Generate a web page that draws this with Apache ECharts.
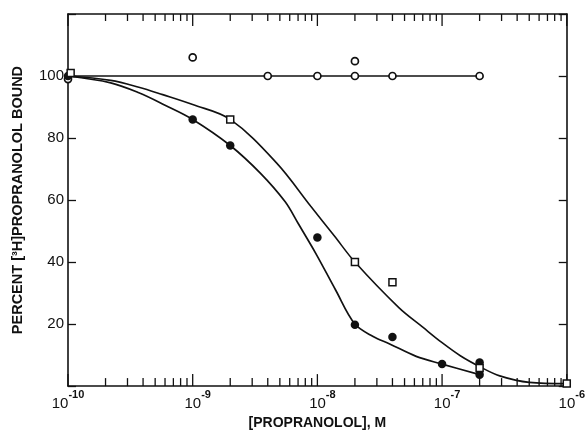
<!DOCTYPE html>
<html>
<head>
<meta charset="utf-8">
<script src="https://cdn.jsdelivr.net/npm/echarts@6/dist/echarts.min.js"></script>
<style>
html,body{margin:0;padding:0;background:#fff;}
#chart{width:588px;height:435px;}
</style>
</head>
<body>
<div id="chart"></div>
<script>
// ---- data ----
var xTickValues = [1e-10, 1e-9, 1e-8, 1e-7, 1e-6];
var xTickExponents = ['-10', '-9', '-8', '-7', '-6'];
var yTickLabels = [20, 40, 60, 80, 100];
var minorTicks = [2e-10,3e-10,4e-10,5e-10,6e-10,7e-10,8e-10,9e-10,
                  2e-9,3e-9,4e-9,5e-9,6e-9,7e-9,8e-9,9e-9,
                  2e-8,3e-8,4e-8,5e-8,6e-8,7e-8,8e-8,9e-8,
                  2e-7,3e-7,4e-7,5e-7,6e-7,7e-7,8e-7,9e-7];

// open circles (control)
var openX = [1e-10, 1e-9, 4e-9, 1e-8, 2e-8, 2e-8, 4e-8, 2e-7];
var openY = [99, 106, 100, 100, 100, 104.8, 100, 100];
var openLineX = [1e-10, 2e-7];
var openLineY = [100, 100];

// filled circles
var filledX = [1e-10, 1e-9, 2e-9, 1e-8, 2e-8, 4e-8, 1e-7, 2e-7, 2e-7];
var filledY = [100, 86, 77.6, 47.9, 19.8, 15.8, 7.1, 7.6, 3.7];
var filledCurveX = [1e-10, 2.2e-10, 3.7e-10, 6e-10, 1e-9, 2e-9, 3.5e-9, 5.5e-9, 7e-9, 9.8e-9, 1.4e-8, 2e-8, 2.8e-8, 3.8e-8, 6.2e-8, 1e-7, 2e-7];
var filledCurveY = [100, 97.8, 94.6, 90.6, 86, 77.6, 68.6, 59.5, 52.5, 42.5, 31, 20, 16, 13.6, 9.6, 7.1, 3.7];

// open squares
var squareX = [1.05e-10, 2e-9, 2e-8, 4e-8, 2e-7, 1e-6];
var squareY = [101, 86, 40, 33.5, 5.8, 0.8];
var squareCurveX = [1e-10, 2.2e-10, 3.7e-10, 5.75e-10, 1e-9, 2e-9, 4.7e-9, 8.85e-9, 1.37e-8, 2e-8, 4.5e-8, 7e-8, 1e-7, 1.4e-7, 2e-7, 2.9e-7, 5e-7, 1e-6];
var squareCurveY = [100, 98.6, 96.4, 94, 90.8, 86, 72, 58, 48.4, 40, 25.3, 19, 14, 9.8, 6.3, 3.3, 1.2, 0.8];

function zip(a, b) { return a.map(function (v, i) { return [v, b[i]]; }); }

var INK = '#111';
var FONT = 'Liberation Sans';

var chart = echarts.init(document.getElementById('chart'), null, {renderer: 'canvas'});

function xLabel(v) {
  var idx = -1;
  for (var i = 0; i < xTickValues.length; i++) {
    if (Math.abs(Math.log10(v) - Math.log10(xTickValues[i])) < 1e-6) idx = i;
  }
  if (idx < 0) return '';
  var e = xTickExponents[idx];
  if (idx === 0) return '{b|10}{s|' + e + '}';
  return '{p|}{b|10}{s|' + e + '}';
}

var tickStyle = {stroke: INK, lineWidth: 1.3};

var option = {
  backgroundColor: '#fff',
  animation: false,
  grid: {left: 68, right: 21, top: 14, bottom: 42, containLabel: false},
  xAxis: [{
    type: 'log', logBase: 10, min: 1e-10, max: 1e-6, position: 'bottom',
    name: '[PROPRANOLOL], M', nameLocation: 'middle', nameGap: 23,
    nameTextStyle: {fontFamily: FONT, fontSize: 14, fontWeight: 'bold', color: INK},
    axisLine: {show: true, lineStyle: {color: INK, width: 1.6}},
    axisTick: {show: false},
    splitLine: {show: false},
    axisLabel: {
      margin: 3, formatter: xLabel, color: INK,
      rich: {
        b: {fontFamily: FONT, fontSize: 15, color: INK, lineHeight: 22, verticalAlign: 'bottom'},
        s: {fontFamily: FONT, fontSize: 11, color: INK, lineHeight: 22, verticalAlign: 'top', fontWeight: 'bold'},
        p: {width: 10}
      }
    }
  }, {
    type: 'log', logBase: 10, min: 1e-10, max: 1e-6, position: 'top',
    axisLine: {show: true, onZero: false, lineStyle: {color: INK, width: 1.6}},
    axisTick: {show: false},
    axisLabel: {show: false},
    splitLine: {show: false}
  }],
  yAxis: [{
    type: 'value', min: 0, max: 120, interval: 20, position: 'left',
    name: 'PERCENT [³H]PROPRANOLOL BOUND', nameLocation: 'middle', nameGap: 43, nameRotate: 90,
    nameTextStyle: {fontFamily: FONT, fontSize: 14.5, fontWeight: 'bold', color: INK},
    axisLine: {show: true, lineStyle: {color: INK, width: 1.6}},
    axisTick: {show: true, inside: true, length: 8, lineStyle: {color: INK, width: 1.3}},
    splitLine: {show: false},
    axisLabel: {
      margin: 4, fontFamily: FONT, fontSize: 15, color: INK,
      formatter: function (v) { return yTickLabels.indexOf(v) >= 0 ? String(v) : ''; }
    }
  }, {
    type: 'value', min: 0, max: 120, interval: 20, position: 'right',
    axisLine: {show: true, lineStyle: {color: INK, width: 1.6}},
    axisTick: {show: true, inside: true, length: 8, lineStyle: {color: INK, width: 1.3}},
    axisLabel: {show: false},
    splitLine: {show: false}
  }],
  series: [
    {
      // minor ticks on bottom and top log axes
      type: 'custom', xAxisIndex: 0, yAxisIndex: 0, silent: true, clip: false, z: 1,
      data: minorTicks.map(function (v) { return [v, 0]; }),
      encode: {x: 0, y: 1},
      renderItem: function (params, api) {
        var pb = api.coord([api.value(0), 0]);
        var pt = api.coord([api.value(0), 120]);
        return {type: 'group', children: [
          {type: 'line', shape: {x1: pb[0], y1: pb[1], x2: pb[0], y2: pb[1] - 8}, style: tickStyle},
          {type: 'line', shape: {x1: pt[0], y1: pt[1], x2: pt[0], y2: pt[1] + 7}, style: tickStyle}
        ]};
      }
    },
    {
      // major (decade) ticks on bottom and top log axes
      type: 'custom', xAxisIndex: 0, yAxisIndex: 0, silent: true, clip: false, z: 1,
      data: xTickValues.map(function (v) { return [v, 0]; }),
      encode: {x: 0, y: 1},
      renderItem: function (params, api) {
        var pb = api.coord([api.value(0), 0]);
        var pt = api.coord([api.value(0), 120]);
        return {type: 'group', children: [
          {type: 'line', shape: {x1: pb[0], y1: pb[1], x2: pb[0], y2: pb[1] - 12}, style: tickStyle},
          {type: 'line', shape: {x1: pt[0], y1: pt[1], x2: pt[0], y2: pt[1] + 12}, style: tickStyle}
        ]};
      }
    },
    {
      // keeps the top axis bound to data so its line is drawn
      type: 'line', xAxisIndex: 1, yAxisIndex: 1, data: [[1e-10, 0]], symbol: 'none', silent: true,
      lineStyle: {opacity: 0}
    },
    {
      type: 'line', data: zip(openLineX, openLineY), symbol: 'none', silent: true,
      lineStyle: {color: INK, width: 1.6}, z: 2
    },
    {
      type: 'line', data: zip(filledCurveX, filledCurveY), symbol: 'none', silent: true,
      smooth: 0.35,
      lineStyle: {color: INK, width: 1.7}, z: 2
    },
    {
      type: 'line', data: zip(squareCurveX, squareCurveY), symbol: 'none', silent: true,
      smooth: 0.35,
      lineStyle: {color: INK, width: 1.6}, z: 2
    },
    {
      type: 'scatter', data: zip(openX, openY), symbol: 'circle', symbolSize: 7,
      itemStyle: {color: '#fff', borderColor: INK, borderWidth: 1.7, opacity: 1}, z: 5, clip: false
    },
    {
      type: 'scatter', data: zip(filledX, filledY), symbol: 'circle', symbolSize: 8.5,
      itemStyle: {color: INK, borderColor: INK, borderWidth: 0, opacity: 1}, z: 6, clip: false
    },
    {
      type: 'scatter', data: zip(squareX, squareY), symbol: 'rect', symbolSize: 7,
      itemStyle: {color: '#fff', borderColor: INK, borderWidth: 1.5, opacity: 1}, z: 7, clip: false
    }
  ]
};
chart.setOption(option);
</script>
</body>
</html>
